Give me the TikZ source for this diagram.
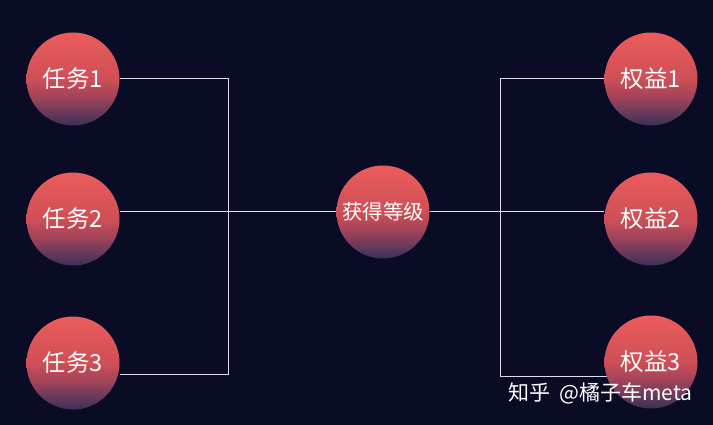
\documentclass[tikz,border=0pt]{standalone}
\usepackage{fontspec}
\newfontfamily\cjk{Noto Sans CJK SC}
\definecolor{bg}{HTML}{0A0C26}
\definecolor{ln}{HTML}{DCDCEA}
\definecolor{cb0}{HTML}{3A3058}
\definecolor{cb1}{HTML}{693A5A}
\definecolor{cb2}{HTML}{A64459}
\definecolor{cb3}{HTML}{CE4F56}
\definecolor{cb4}{HTML}{EC5C5C}
\pgfdeclareverticalshading{ballshade}{100bp}{%
  color(0bp)=(cb0); color(25bp)=(cb0); color(32bp)=(cb1); color(41bp)=(cb2);
  color(50bp)=(cb3); color(75bp)=(cb4); color(100bp)=(cb4)}
\begin{document}
\begin{tikzpicture}[x=1pt,y=-1pt,
  ball/.style={circle,minimum size=93pt,inner sep=0pt,shading=ballshade,text=white,font=\cjk\fontsize{23.5}{24}\selectfont},
  link/.style={draw=ln,line width=1pt}]
\fill[bg] (0,0) rectangle (713,425);
\useasboundingbox (0,0) rectangle (713,425);
\node[ball] (t1) at (73,79) {任务1};
\node[ball] (t2) at (73,219) {任务2};
\node[ball] (t3) at (73,363) {任务3};
\node[ball,font=\cjk\fontsize{20.5}{21}\selectfont] (c) at (383,212) {获得等级};
\node[ball] (r1) at (651,79) {权益1};
\node[ball] (r2) at (651,219) {权益2};
\coordinate (la) at (228,79);
\coordinate (lb) at (228,374);
\coordinate (ra) at (500,79);
\coordinate (rb) at (500,376);
\draw[link] (t1.east) -- (la) -- (lb) -- (t3.east |- lb);
\draw[link] (t2.east |- c.west) -- (c.west);
\draw[link] (c.east) -- (r2.west |- c.east);
\draw[link] (r1.west) -- (ra) -- (rb) -- (608,376);
\node[ball] (r3) at (651,362) {权益3};
\node[text=white,font=\cjk\fontsize{21}{22}\selectfont,anchor=west,inner sep=0pt] (wm) at (508,393) {知乎\hspace{0.45em}@橘子车meta};
\end{tikzpicture}
\end{document}
